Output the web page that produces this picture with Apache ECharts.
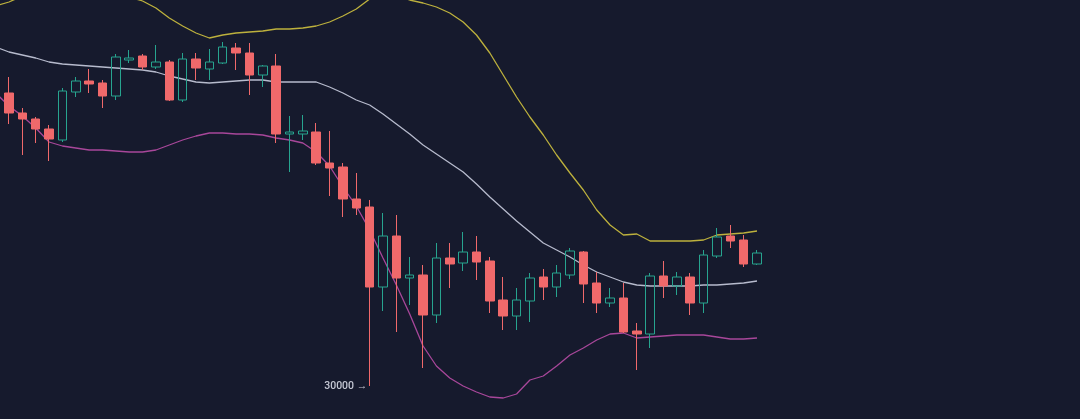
<!DOCTYPE html>
<html>
<head>
<meta charset="utf-8">
<script src="https://cdn.jsdelivr.net/npm/echarts@6/dist/echarts.min.js"></script>
<style>
html,body{margin:0;padding:0;background:#161a2d;}
#chart{width:1080px;height:419px;}
</style>
</head>
<body>
<div id="chart"></div>
<script>
// Candle values (57 visible candles)
const opens  = [44650,43650,43350,42850,42300,44700,45250,45150,44500,46300,46500,45950,46200,44300,46350,45850,46150,46900,46650,45550,46000,42600,42600,42700,41150,40950,39350,38950,34950,37500,35400,35550,33550,36400,36150,36700,36250,34300,33500,34250,35450,34950,35550,36700,35150,34150,34400,32750,32600,35500,35000,35450,34150,36500,37500,37300,36100];
const closes = [43650,43350,42850,42350,44750,45250,45100,44500,46450,46400,45950,46200,44300,46350,45900,46200,46950,46650,45550,46000,42600,42700,42750,41150,40900,39350,38900,34950,37500,35400,35550,33550,36400,36100,36700,36200,34250,33500,34300,35400,34950,35650,36750,35100,34150,34400,32700,32600,35500,35000,35450,34150,36550,37450,37250,36100,36650];
const highs  = [45450,43900,43450,43050,44900,45450,45850,45300,46600,46800,46600,47050,46300,46650,46650,46850,47200,47150,47150,46050,46600,43500,43550,43150,42750,41150,40650,39300,38650,38550,36450,36050,37150,37150,37700,37500,36450,35450,34900,35650,35850,36050,36900,36750,35700,34900,35150,33150,35650,36250,35700,35650,36800,37900,38050,37550,36800];
const lows   = [43100,41550,42150,41250,42200,44450,44650,43900,44300,46150,45800,45850,44250,44200,45300,45300,46100,45800,44550,44950,42150,40700,42300,41050,39500,38450,38550,30000,33750,32700,34050,30900,33150,34900,35750,35300,33650,32800,32800,33200,34300,34450,35350,34150,33650,33950,32650,30800,31900,34400,34550,33550,33650,36400,36900,35950,36050];

// Bollinger bands (first value belongs to the period just before the first visible candle)
const upperBand = [49000,49200,49500,49750,49900,50000,50050,50000,49900,49700,49450,49250,48900,48400,48000,47650,47400,47550,47650,47700,47750,47850,47850,47900,48000,48200,48500,48850,49350,49600,49500,49300,49150,48950,48650,48200,47550,46650,45550,44450,43450,42550,41550,40650,39800,38800,38050,37550,37600,37250,37250,37250,37250,37300,37550,37600,37650,37750];
const midBand   = [46950,46700,46550,46400,46200,46100,46050,46000,45950,45900,45850,45800,45700,45500,45350,45200,45150,45200,45250,45300,45300,45200,45200,45200,45200,44950,44650,44300,44050,43600,43100,42600,42050,41600,41150,40700,40100,39450,38850,38250,37700,37150,36800,36450,36050,35700,35450,35200,35050,35000,35000,35000,35000,35050,35050,35100,35150,35250];
const lowerBand = [44650,44000,43500,42900,42200,42000,41900,41800,41800,41750,41700,41700,41800,42050,42300,42500,42650,42650,42600,42600,42550,42400,42300,42150,41700,41000,39950,39000,37800,36400,35050,33600,32000,31000,30400,30000,29700,29450,29400,29600,30300,30500,31000,31550,31900,32300,32600,32650,32400,32450,32500,32550,32550,32550,32450,32350,32350,32400];

const totalSlots = 82;
const categories = [];
for (let i = 0; i < totalSlots; i++) categories.push(String(i));

const candleData = ['-'];
for (let i = 0; i < opens.length; i++) {
  candleData.push([opens[i], closes[i], lows[i], highs[i]]);
}

const chart = echarts.init(document.getElementById('chart'), null, {renderer: 'canvas'});
const slotW = 13.357;
const gridLeft = 9 - slotW * 1.5;
const gridRight = 1080 - (gridLeft + slotW * totalSlots);

function band(data, color) {
  return {
    type: 'line', data: data, symbol: 'none', smooth: false,
    lineStyle: {color: color, width: 1.3}, z: 2
  };
}

chart.setOption({
  backgroundColor: '#161a2d',
  animation: false,
  grid: {left: gridLeft, right: gridRight, top: 0, bottom: 0, containLabel: false, outerBoundsMode: 'none'},
  xAxis: {
    type: 'category', data: categories, boundaryGap: true,
    axisLine: {show: false}, axisTick: {show: false}, axisLabel: {show: false},
    splitLine: {show: false}
  },
  yAxis: {
    type: 'value', min: 28350, max: 49300, scale: true,
    axisLine: {show: false}, axisTick: {show: false}, axisLabel: {show: false},
    splitLine: {show: false}
  },
  series: [
    band(upperBand, '#bdb13d'),
    band(midBand, '#b7bbcd'),
    band(lowerBand, '#a8479a'),
    {
      type: 'candlestick', data: candleData, barWidth: 9, z: 3,
      itemStyle: {
        color: 'rgba(0,0,0,0)', color0: '#f0696b',
        borderColor: '#27a48f', borderColor0: '#f0696b', borderWidth: 1
      },
      markPoint: {
        symbol: 'circle', symbolSize: 1,
        itemStyle: {color: 'rgba(0,0,0,0)'},
        data: [{type: 'min', valueDim: 'lowest'}],
        label: {
          show: true, position: 'left', distance: 2,
          formatter: function (p) { return p.value + ' →'; },
          color: '#c4c7d3', fontSize: 10.5, fontWeight: 500, fontFamily: 'Roboto, sans-serif'
        }
      }
    }
  ]
});
</script>
</body>
</html>
